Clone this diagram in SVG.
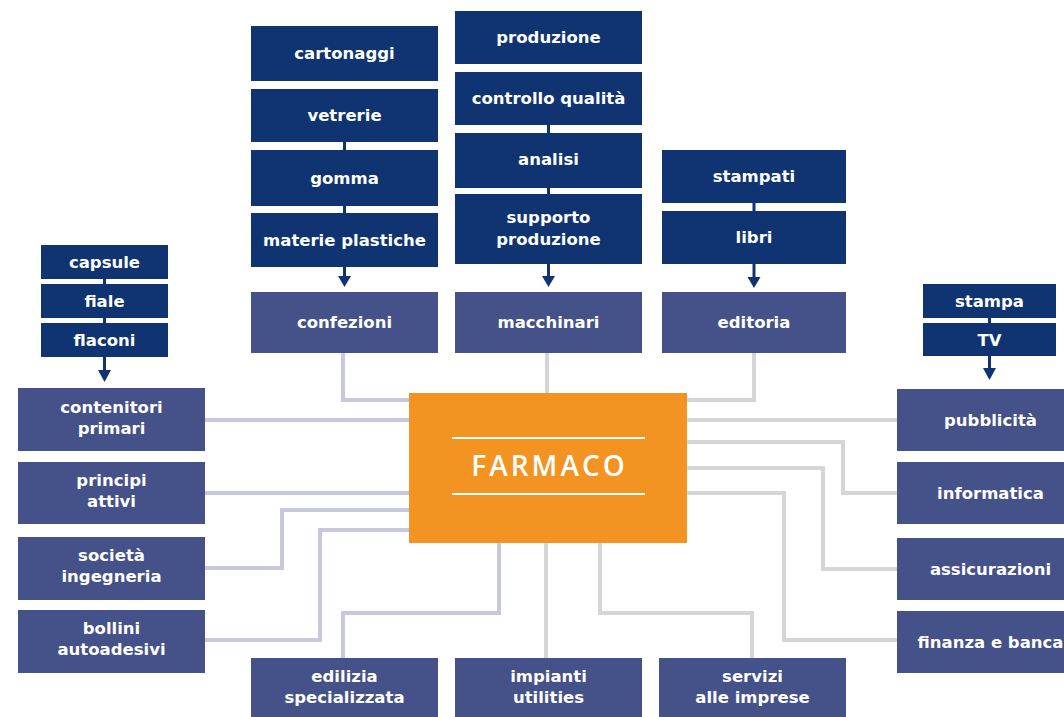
<svg xmlns="http://www.w3.org/2000/svg" width="1064" height="717" viewBox="0 0 1064 717">
<defs>
<style>
.dk{fill:#0f3471}
.md{fill:#455189}
.t{font-family:"DejaVu Sans",sans-serif;font-weight:700;font-size:16.5px;fill:#ffffff;text-anchor:middle}
.cl{fill:none;stroke:#c7c8de;stroke-width:4}
.cg{fill:none;stroke:#d5d5d5;stroke-width:4}
.ln{stroke:#0f3471;stroke-width:3}
.hd{fill:#0f3471}
</style>
</defs>
<rect width="1064" height="717" fill="#ffffff"/>
<g id="connectors">
<path class="cl" d="M343,353 V400 H409"/>
<path class="cg" d="M547,353 V393"/>
<path class="cg" d="M754,353 V400 H687"/>
<path class="cl" d="M205,420 H409"/>
<path class="cl" d="M205,493 H409"/>
<path class="cl" d="M205,568 H282 V510 H409"/>
<path class="cl" d="M205,640 H320 V530 H409"/>
<path class="cl" d="M499,543 V613 H343 V658"/>
<path class="cg" d="M546,543 V658"/>
<path class="cg" d="M600,543 V613 H752 V658"/>
<path class="cg" d="M687,420 H897"/>
<path class="cg" d="M687,442 H843 V493 H897"/>
<path class="cg" d="M687,468 H823 V569 H897"/>
<path class="cg" d="M687,493 H784 V640 H897"/>
<line class="ln" x1="344.5" y1="142" x2="344.5" y2="150"/>
<line class="ln" x1="344.5" y1="206" x2="344.5" y2="213"/>
<line class="ln" x1="344.5" y1="267" x2="344.5" y2="278"/>
<polygon class="hd" points="338,276 351,276 344.5,287"/>
<line class="ln" x1="548.5" y1="125" x2="548.5" y2="133"/>
<line class="ln" x1="548.5" y1="188" x2="548.5" y2="194"/>
<line class="ln" x1="548.5" y1="264" x2="548.5" y2="278"/>
<polygon class="hd" points="542,276 555,276 548.5,287"/>
<line class="ln" x1="754" y1="203" x2="754" y2="211"/>
<line class="ln" x1="754" y1="264" x2="754" y2="279"/>
<polygon class="hd" points="747.5,277 760.5,277 754,288"/>
<line class="ln" x1="104.5" y1="279" x2="104.5" y2="284"/>
<line class="ln" x1="104.5" y1="318" x2="104.5" y2="323"/>
<line class="ln" x1="104.5" y1="357" x2="104.5" y2="372"/>
<polygon class="hd" points="98,370 111,370 104.5,382"/>
<line class="ln" x1="989.5" y1="318" x2="989.5" y2="323"/>
<line class="ln" x1="989.5" y1="356" x2="989.5" y2="369"/>
<polygon class="hd" points="983,368 996,368 989.5,380"/>
</g>
<g id="n-cartonaggi"><rect class="dk" x="251" y="26" width="187" height="55"/><text class="t" x="344.5" y="59">cartonaggi</text></g>
<g id="n-vetrerie"><rect class="dk" x="251" y="89" width="187" height="53"/><text class="t" x="344.5" y="121">vetrerie</text></g>
<g id="n-gomma"><rect class="dk" x="251" y="150" width="187" height="56"/><text class="t" x="344.5" y="184">gomma</text></g>
<g id="n-materie"><rect class="dk" x="251" y="213" width="187" height="54"/><text class="t" x="344.5" y="246">materie plastiche</text></g>
<g id="n-confezioni"><rect class="md" x="251" y="292" width="187" height="61"/><text class="t" x="344.5" y="328">confezioni</text></g>
<g id="n-produzione"><rect class="dk" x="455" y="11" width="187" height="53"/><text class="t" x="548.5" y="43">produzione</text></g>
<g id="n-controllo"><rect class="dk" x="455" y="72" width="187" height="53"/><text class="t" x="548.5" y="104">controllo qualità</text></g>
<g id="n-analisi"><rect class="dk" x="455" y="133" width="187" height="55"/><text class="t" x="548.5" y="165">analisi</text></g>
<g id="n-supporto"><rect class="dk" x="455" y="194" width="187" height="70"/><text class="t" x="548.5" y="223">supporto</text><text class="t" x="548.5" y="245">produzione</text></g>
<g id="n-macchinari"><rect class="md" x="455" y="292" width="187" height="61"/><text class="t" x="548.5" y="328">macchinari</text></g>
<g id="n-stampati"><rect class="dk" x="662" y="150" width="184" height="53"/><text class="t" x="754" y="182">stampati</text></g>
<g id="n-libri"><rect class="dk" x="662" y="211" width="184" height="53"/><text class="t" x="754" y="243">libri</text></g>
<g id="n-editoria"><rect class="md" x="662" y="292" width="184" height="61"/><text class="t" x="754" y="328">editoria</text></g>
<g id="n-capsule"><rect class="dk" x="41" y="245" width="127" height="34"/><text class="t" x="104.5" y="268">capsule</text></g>
<g id="n-fiale"><rect class="dk" x="41" y="284" width="127" height="34"/><text class="t" x="104.5" y="307">fiale</text></g>
<g id="n-flaconi"><rect class="dk" x="41" y="323" width="127" height="34"/><text class="t" x="104.5" y="346">flaconi</text></g>
<g id="n-stampa"><rect class="dk" x="923" y="284" width="133" height="34"/><text class="t" x="989.5" y="307">stampa</text></g>
<g id="n-tv"><rect class="dk" x="923" y="323" width="133" height="33"/><text class="t" x="989.5" y="346">TV</text></g>
<g id="n-contenitori"><rect class="md" x="18" y="388" width="187" height="63"/><text class="t" x="111.5" y="413">contenitori</text><text class="t" x="111.5" y="434">primari</text></g>
<g id="n-principi"><rect class="md" x="18" y="462" width="187" height="62"/><text class="t" x="111.5" y="486">principi</text><text class="t" x="111.5" y="507">attivi</text></g>
<g id="n-societa"><rect class="md" x="18" y="537" width="187" height="63"/><text class="t" x="111.5" y="561">società</text><text class="t" x="111.5" y="582">ingegneria</text></g>
<g id="n-bollini"><rect class="md" x="18" y="610" width="187" height="63"/><text class="t" x="111.5" y="634">bollini</text><text class="t" x="111.5" y="655">autoadesivi</text></g>
<g id="n-edilizia"><rect class="md" x="251" y="658" width="187" height="63"/><text class="t" x="344.5" y="682">edilizia</text><text class="t" x="344.5" y="703">specializzata</text></g>
<g id="n-impianti"><rect class="md" x="455" y="658" width="187" height="63"/><text class="t" x="548.5" y="682">impianti</text><text class="t" x="548.5" y="703">utilities</text></g>
<g id="n-servizi"><rect class="md" x="659" y="658" width="187" height="63"/><text class="t" x="752.5" y="682">servizi</text><text class="t" x="752.5" y="703">alle imprese</text></g>
<g id="n-pubblicita"><rect class="md" x="897" y="389" width="187" height="62"/><text class="t" x="990.5" y="426">pubblicità</text></g>
<g id="n-informatica"><rect class="md" x="897" y="462" width="187" height="62"/><text class="t" x="990.5" y="499">informatica</text></g>
<g id="n-assicurazioni"><rect class="md" x="897" y="538" width="187" height="62"/><text class="t" x="990.5" y="575">assicurazioni</text></g>
<g id="n-finanza"><rect class="md" x="897" y="611" width="187" height="62"/><text class="t" x="990.5" y="648">finanza e banca</text></g>
<g id="n-farmaco">
<rect x="409" y="393" width="278" height="150" fill="#f39322"/>
<line x1="452" y1="438" x2="645" y2="438" stroke="#ffffff" stroke-width="2"/>
<line x1="452" y1="494" x2="645" y2="494" stroke="#ffffff" stroke-width="2"/>
<text x="549.5" y="476" font-family="'Open Sans','DejaVu Sans',sans-serif" font-size="28" font-weight="600" fill="#ffffff" text-anchor="middle" letter-spacing="3">FARMACO</text>
</g>
</svg>
